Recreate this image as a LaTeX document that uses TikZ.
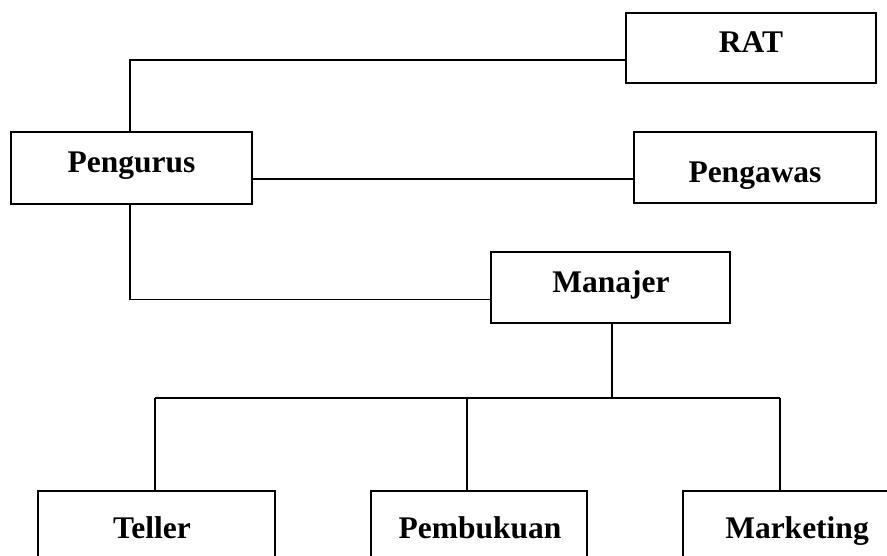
\documentclass[tikz,border=0pt]{standalone}
\usepackage{fontspec}
\setmainfont{Liberation Serif}
\begin{document}
\begin{tikzpicture}[x=1pt,y=-1pt,
  box/.style={draw,line width=2pt,rectangle,inner sep=0pt},
  lbl/.style={anchor=base,inner sep=0pt,font=\fontsize{31.5}{36}\selectfont\bfseries},
  conn/.style={line width=1.8pt}]
\useasboundingbox (0,0) rectangle (887,556);
\clip (0,0) rectangle (887,556);
% boxes
\node[box,minimum width=250pt,minimum height=70pt] (rat) at (751,48) {};
\node[box,minimum width=241pt,minimum height=72pt] (pengurus) at (131.5,168) {};
\node[box,minimum width=242pt,minimum height=71pt] (pengawas) at (755,167.5) {};
\node[box,minimum width=239pt,minimum height=71pt] (manajer) at (610.5,287.5) {};
\node[box,minimum width=237pt,minimum height=109pt] (teller) at (156.5,545.5) {};
\node[box,minimum width=216pt,minimum height=109pt] (pembukuan) at (479,545.5) {};
\node[box,minimum width=228pt,minimum height=109pt] (marketing) at (797,545.5) {};
% labels
\node[lbl] (trat) at (751,53) {RAT};
\node[lbl] (tpengurus) at (131.5,173) {Pengurus};
\node[lbl] (tpengawas) at (755,183) {Pengawas};
\node[lbl] (tmanajer) at (611,293) {Manajer};
\node[lbl] (tteller) at (152,538) {Teller};
\node[lbl] (tpembukuan) at (480,538) {Pembukuan};
\node[lbl] (tmarketing) at (797,538) {Marketing};
% connectors
\draw[conn] ([xshift=-1.5pt]pengurus.north) |- ([yshift=-12pt]rat.west);
\draw[conn] ([yshift=-11pt]pengurus.east) -- ([yshift=-11pt]pengurus.east -| pengawas.west);
\draw[conn] ([xshift=-1.5pt]pengurus.south) |- ([yshift=-12pt]manajer.west);
\coordinate (bus) at (612,398);
\coordinate (b1) at (155,398);
\coordinate (b2) at (467,398);
\coordinate (b3) at (780,398);
\draw[conn] ([xshift=1.5pt]manajer.south) -- (bus);
\draw[conn] (b1) -- (b3);
\draw[conn] (b1) -- (b1 |- teller.north);
\draw[conn] (b2) -- (b2 |- pembukuan.north);
\draw[conn] (b3) -- (b3 |- marketing.north);
\end{tikzpicture}
\end{document}
